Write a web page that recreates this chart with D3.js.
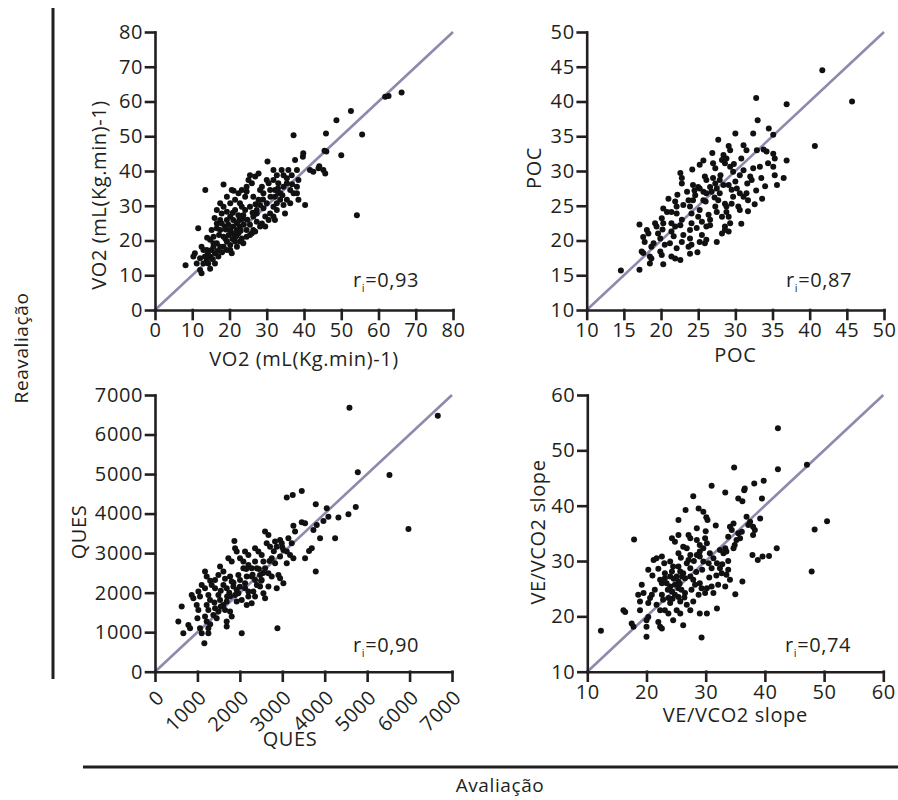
<!DOCTYPE html>
<html>
<head>
<meta charset="utf-8">
<script src="https://cdn.jsdelivr.net/npm/d3@7/dist/d3.min.js"></script>
<style>
  body { margin: 0; background: #fff; }
  svg text { font-family: "Open Sans", sans-serif; fill: #231f20; letter-spacing: 0.6px; }
  .axis path, .axis line { stroke: #231f20; stroke-width: 2.6; stroke-linecap: square; }
  .dot { fill: #111; }
  .identity { stroke: #8e89ad; stroke-width: 2.6; }
</style>
</head>
<body>
<svg id="chart" width="898" height="800"></svg>
<script>
// tick values for every panel
var vo2Ticks = [0, 10, 20, 30, 40, 50, 60, 70, 80];
var pocTicks = [10, 15, 20, 25, 30, 35, 40, 45, 50];
var quesTicks = [0, 1000, 2000, 3000, 4000, 5000, 6000, 7000];
var veTicks = [10, 20, 30, 40, 50, 60];

// axis titles and correlation coefficients
var titles = ["VO2 (mL(Kg.min)-1)", "POC", "QUES", "VE/VCO2 slope"];
var rValues = ["0,93", "0,87", "0,90", "0,74"];

// [avaliação, reavaliação] pairs
var vo2Points = [[8.2,12.9],[13.5,34.5],[18.4,36.1],[21.1,34.3],[20.6,34.5],[37.2,50.3],[45.9,50.8],[48.7,54.6],[52.6,57.3],[55.6,50.5],[54.2,27.3],[50.0,44.5],[61.8,61.4],[62.7,61.6],[66.2,62.6],[45.5,45.8],[46.0,45.6],[39.7,44.1],[39.8,45.1],[37.6,43.2],[30.2,42.7],[25.5,38.8],[25.1,37.4],[40.3,30.2],[38.1,40.3],[38.5,37.4],[41.6,40.3],[42.5,39.8],[43.9,40.8],[45.2,40.3],[45.7,39.3],[44.1,41.4],[11.6,23.5],[10.7,16.3],[10.3,15.4],[12.5,18.2],[13.0,17.3],[12.1,11.5],[12.5,10.6],[16.1,13.4],[14.8,15.4],[13.9,14.4],[15.2,17.3],[15.7,18.2],[16.6,19.2],[17.5,18.2],[18.4,21.1],[19.3,19.7],[15.7,21.1],[15.2,23.0],[16.6,24.9],[17.5,25.9],[17.9,27.8],[19.3,28.3],[18.4,29.7],[20.2,30.7],[21.5,31.7],[22.8,30.7],[24.2,32.6],[24.6,34.1],[20.2,26.9],[21.0,25.9],[22.0,24.9],[22.8,24.0],[20.2,23.0],[21.0,22.1],[22.4,22.1],[23.3,20.6],[17.5,23.0],[18.8,24.0],[24.6,23.0],[25.5,24.5],[26.4,26.9],[27.3,27.8],[24.2,28.8],[25.5,29.7],[26.4,32.6],[27.8,31.7],[28.2,34.5],[29.1,33.6],[28.7,35.5],[30.0,37.4],[31.8,40.3],[32.7,38.8],[34.0,40.3],[34.5,38.8],[30.5,36.5],[31.8,37.4],[33.1,36.5],[30.9,34.5],[32.2,34.5],[33.6,33.6],[34.5,35.5],[35.4,36.5],[36.3,34.5],[37.2,33.6],[38.1,35.5],[35.4,31.7],[36.3,30.7],[38.1,33.6],[38.5,31.7],[33.6,31.7],[34.5,30.2],[32.7,30.7],[31.8,29.7],[30.0,30.7],[29.1,29.3],[30.9,27.8],[32.7,28.8],[28.2,30.2],[27.3,28.8],[34.9,27.8],[32.2,25.9],[31.8,26.9],[29.6,26.9],[30.5,25.9],[27.3,25.4],[26.4,23.0],[26.0,22.1],[28.2,24.0],[22.8,19.7],[23.7,19.2],[20.2,17.3],[20.6,16.3],[16.1,16.3],[17.0,15.4],[18.4,18.2],[13.4,15.4],[13.9,17.3],[24.6,21.1],[16.6,28.8],[17.5,30.7],[19.3,32.6],[22.4,33.6],[23.3,34.5],[24.6,35.5],[26.0,36.5],[26.9,38.4],[27.8,39.3],[23.3,29.7],[23.7,27.3],[21.5,28.8],[22.4,27.3],[19.3,25.9],[19.7,24.5],[21.0,24.0],[22.0,23.0],[17.9,24.9],[16.6,23.5],[14.8,20.2],[15.7,19.2],[12.1,14.9],[13.0,13.4],[11.2,13.4],[14.3,13.4],[14.8,11.9],[19.3,17.3],[20.2,18.7],[22.0,18.2],[21.5,19.7],[25.5,21.6],[26.9,22.6],[28.7,24.9],[29.6,24.0],[32.2,32.6],[33.1,33.6],[35.4,37.9],[36.7,38.8],[35.8,40.3],[14.2,16.2],[15.5,14.6],[16.8,17.0],[18.0,16.6],[18.9,20.5],[19.8,21.6],[20.8,20.4],[21.8,21.2],[23.0,22.8],[23.8,24.6],[24.8,26.0],[20.9,28.0],[19.0,23.2],[17.2,21.6],[22.6,25.8],[23.5,26.2],[26.2,28.0],[27.0,30.4],[29.0,31.8],[31.0,32.6],[33.0,35.0],[34.2,33.0],[36.8,36.2],[16.0,26.5],[14.0,20.8]];

var pocPoints = [[41.7,44.5],[45.7,40.0],[32.8,40.5],[36.9,39.6],[40.7,33.6],[33.0,37.3],[34.5,36.1],[32.4,35.4],[30.0,35.4],[27.7,34.5],[29.1,33.6],[29.3,33.0],[31.1,33.7],[31.5,33.0],[32.9,33.0],[33.8,33.1],[35.1,35.2],[34.2,32.8],[35.1,32.5],[35.3,31.8],[34.4,31.1],[35.1,30.6],[36.9,31.5],[35.3,29.4],[36.5,29.0],[35.6,28.0],[33.3,30.6],[33.5,29.0],[34.0,27.8],[32.0,29.2],[32.2,28.7],[32.4,30.4],[31.1,30.1],[30.6,29.4],[28.4,32.3],[28.8,31.8],[28.2,31.6],[28.6,31.1],[29.3,30.6],[29.7,29.9],[27.0,31.1],[27.3,30.4],[25.2,30.9],[22.6,29.7],[22.8,29.0],[22.8,28.2],[24.3,28.0],[25.0,27.7],[25.9,29.2],[26.1,28.7],[27.0,29.0],[27.3,28.2],[27.9,28.7],[28.4,28.0],[25.2,27.5],[25.7,27.0],[26.6,27.7],[26.8,27.0],[27.5,27.5],[27.9,26.8],[29.1,28.0],[29.5,27.3],[30.0,28.5],[30.2,27.5],[30.6,26.8],[31.1,26.3],[29.7,26.3],[29.5,25.3],[31.5,26.8],[31.7,25.8],[32.6,25.2],[30.4,24.9],[30.6,24.4],[28.6,25.3],[28.8,24.9],[27.7,25.8],[27.3,24.9],[26.1,26.8],[25.7,25.8],[24.6,26.5],[24.3,25.8],[23.7,25.8],[23.0,25.1],[21.9,25.6],[22.1,24.9],[20.3,24.6],[20.8,24.1],[21.4,24.1],[22.1,23.9],[23.9,24.9],[24.1,23.9],[25.2,24.4],[25.0,23.4],[26.4,23.7],[26.6,23.0],[27.5,24.1],[28.2,23.4],[28.8,24.1],[29.1,23.4],[29.3,22.5],[28.6,22.0],[28.2,21.0],[28.6,21.5],[29.1,21.3],[26.1,22.0],[26.6,22.2],[25.5,22.7],[24.8,21.8],[24.1,22.5],[23.9,21.5],[22.8,23.0],[22.6,22.2],[21.4,22.5],[21.9,22.0],[20.1,23.2],[20.3,22.5],[19.2,22.5],[19.4,22.0],[17.1,22.3],[18.1,21.5],[18.3,21.0],[19.6,21.0],[19.9,20.3],[21.4,21.3],[21.7,20.6],[23.0,20.8],[22.8,19.8],[23.9,20.3],[24.1,19.4],[25.5,20.8],[25.2,19.8],[26.1,20.1],[25.9,19.6],[27.5,19.8],[17.6,20.5],[17.8,19.8],[18.7,19.1],[19.0,19.6],[20.5,19.4],[21.2,19.6],[22.1,18.9],[23.7,19.1],[17.4,18.4],[17.6,18.2],[18.5,17.7],[18.7,17.4],[19.9,18.4],[20.1,17.9],[21.4,17.7],[21.9,17.4],[24.9,18.3],[18.5,16.7],[20.3,16.6],[17.1,15.8],[14.6,15.7],[22.6,17.2],[23.9,18.1],[24.5,27.2],[26.0,25.6],[27.2,26.2],[28.0,29.4],[29.8,31.0],[30.8,31.8],[31.6,28.2],[26.9,32.6],[25.7,31.5],[24.2,30.2],[23.5,27.0],[22.2,26.6],[21.0,26.0],[20.2,21.6],[30.8,22.4],[31.7,24.2],[32.8,27.2],[33.6,26.0]];

var quesPoints = [[4583,6680],[6665,6477],[4780,5044],[5526,4977],[5974,3611],[3105,4404],[3246,4471],[3459,4572],[3789,4235],[4048,4134],[4732,4168],[4559,3982],[4323,3898],[4087,3923],[3970,3813],[3812,3712],[3734,3586],[3459,3780],[3537,3754],[3262,3695],[3301,3544],[3891,3375],[4245,3375],[3695,3122],[3631,3055],[3537,2869],[3789,2532],[3144,3375],[3223,3249],[2948,3333],[2987,3249],[2830,3291],[2869,3164],[2594,3544],[2673,3459],[2633,3249],[2712,3164],[3026,3080],[3105,3038],[3183,2954],[3262,2869],[3105,2743],[2948,2912],[2751,2869],[2830,2743],[2515,2954],[2555,2785],[2358,3122],[2437,3038],[2122,3038],[2201,2954],[1871,3308],[1887,3122],[1926,3038],[1729,2869],[1808,2785],[2004,2869],[2083,2785],[2201,2701],[2279,2616],[2358,2785],[2398,2616],[2594,2616],[2673,2490],[2476,2448],[2515,2321],[2751,2406],[2909,2448],[2948,2364],[3026,2237],[2869,2111],[2673,2153],[2358,2321],[2398,2195],[2162,2406],[2122,2237],[1965,2448],[2004,2321],[1769,2406],[1808,2279],[1533,2659],[1612,2532],[1494,2448],[1415,2321],[1179,2532],[1218,2406],[1101,2195],[1179,2111],[1336,2195],[1415,2111],[1612,2195],[1690,2111],[1847,2153],[1926,2069],[2122,2111],[2201,2027],[2319,2027],[2358,1900],[2555,1984],[2594,1858],[2279,1731],[2162,1689],[2044,1816],[1926,1773],[1769,1900],[1690,1773],[1494,1942],[1533,1816],[1258,1942],[1297,1816],[1022,2027],[1061,1900],[865,1942],[904,1858],[983,1689],[1022,1563],[1218,1689],[1258,1563],[1415,1605],[1494,1521],[1612,1689],[1651,1563],[1769,1521],[1808,1394],[1376,1436],[1454,1352],[1179,1394],[1218,1267],[629,1647],[550,1267],[786,1183],[826,1099],[668,973],[1061,1099],[1101,973],[1258,973],[1258,1099],[1690,1267],[1690,1141],[2044,973],[2885,1099],[1163,720],[1887,1942],[1965,1984],[2083,2616],[2279,2406],[2476,2153],[1300,2300],[1550,2050],[1650,2350],[1750,2000],[1850,2250],[2000,2150],[2150,2600],[2300,2450],[2450,2600],[2550,2500],[2700,2800],[2800,3050],[3000,3150],[1400,1750],[1550,1650],[1700,1900],[1000,1350],[1300,1200],[2200,1900],[2500,2300]];

var vePoints = [[42.2,54.0],[42.2,46.6],[47.1,47.4],[34.8,46.9],[31.0,43.6],[27.9,41.7],[33.3,42.4],[35.5,41.3],[36.2,40.8],[36.6,43.1],[36.5,42.8],[38.2,44.0],[39.8,44.5],[39.5,41.3],[26.6,39.2],[28.8,39.5],[29.6,38.9],[25.4,37.4],[30.1,37.9],[30.3,37.4],[31.7,36.4],[28.5,35.9],[17.9,33.9],[24.3,34.1],[24.8,33.5],[27.1,34.7],[27.4,34.1],[25.4,34.7],[26.2,32.6],[26.8,32.3],[28.5,33.8],[29.0,32.9],[29.9,34.1],[30.2,33.2],[29.6,32.3],[29.0,31.7],[28.5,31.1],[27.4,31.1],[27.1,30.2],[25.4,31.4],[22.6,30.8],[21.7,30.5],[21.2,30.2],[20.3,28.4],[24.0,29.9],[24.5,29.0],[25.4,29.0],[25.7,28.1],[26.8,29.6],[27.4,28.7],[29.0,30.8],[29.6,29.9],[30.7,31.4],[31.3,30.5],[30.5,29.6],[31.0,28.7],[32.4,32.0],[33.0,31.4],[33.3,32.3],[33.5,31.7],[33.8,34.4],[34.4,35.6],[34.1,36.2],[34.7,36.8],[35.5,35.0],[36.1,35.3],[35.2,33.8],[35.8,34.1],[34.9,32.9],[34.7,32.3],[36.9,38.0],[37.5,37.1],[37.2,36.5],[38.0,36.2],[38.3,35.6],[38.0,34.7],[39.2,37.7],[42.0,32.3],[37.9,31.1],[38.8,30.2],[39.6,30.8],[40.7,30.9],[48.4,35.7],[50.5,37.2],[47.9,28.1],[31.9,29.6],[32.4,28.7],[32.7,27.8],[33.5,27.5],[33.8,28.4],[34.1,26.6],[33.3,25.4],[32.1,25.7],[36.2,26.3],[35.0,24.0],[31.0,25.4],[31.3,24.2],[30.2,25.1],[29.9,24.2],[29.0,26.0],[29.3,25.1],[27.9,26.6],[28.2,25.7],[27.4,27.2],[26.2,27.8],[26.5,26.9],[25.1,27.2],[25.4,26.3],[24.3,28.1],[24.0,27.2],[23.1,27.8],[23.1,26.9],[22.3,26.6],[22.6,26.0],[23.4,26.0],[24.0,25.4],[24.8,25.7],[25.4,25.1],[25.9,24.8],[26.5,24.2],[24.3,24.5],[24.8,23.9],[25.4,23.5],[25.7,22.7],[23.7,23.3],[24.0,22.4],[22.6,23.9],[22.8,23.0],[21.4,24.8],[20.9,23.9],[19.2,25.7],[19.5,24.2],[18.6,23.9],[18.9,22.7],[20.3,22.4],[20.6,23.3],[21.7,22.1],[22.3,21.1],[23.1,21.1],[23.7,20.5],[25.1,21.1],[25.7,20.5],[26.8,22.1],[27.4,21.1],[27.9,22.7],[28.8,23.9],[29.0,20.5],[30.2,20.5],[31.9,21.4],[16.1,21.1],[16.4,20.8],[18.9,21.1],[17.5,18.7],[17.8,18.1],[20.0,19.3],[20.3,19.9],[22.0,19.0],[22.3,18.1],[22.6,17.8],[24.5,19.3],[26.2,18.4],[20.0,16.3],[29.3,16.2],[12.3,17.4],[20.0,18.1],[24.6,26.8],[25.6,25.9],[26.0,27.2],[23.6,24.8],[24.4,23.2],[26.4,23.4],[27.6,24.8],[28.4,28.0],[29.4,28.4],[30.6,27.0],[31.8,27.4],[32.8,29.4],[33.8,30.0],[22.0,28.6],[21.0,27.4],[23.0,29.6],[25.8,30.6],[28.0,30.0],[30.0,35.4]];

(function () {
  var svg = d3.select("#chart");

  // pixel boxes of the four panels plus where their titles sit
  var panels = [
    {points: vo2Points, ticks: vo2Ticks, title: titles[0], r: rValues[0],
     left: 155, right: 453, bottom: 310, top: 32,
     xTitleY: 366, yTitleX: 106, yTitleY: 195, rX: 353, rY: 287},
    {points: pocPoints, ticks: pocTicks, title: titles[1], r: rValues[1],
     left: 586.7, right: 884, bottom: 310, top: 32,
     xTitleY: 362, yTitleX: 541, yTitleY: 168, rX: 786, rY: 287},
    {points: quesPoints, ticks: quesTicks, title: titles[2], r: rValues[2],
     left: 155, right: 452, bottom: 671.7, top: 395, rotated: true,
     xTitleY: 746, xTitleX: 290, yTitleX: 86, yTitleY: 532, rX: 353, rY: 652},
    {points: vePoints, ticks: veTicks, title: titles[3], r: rValues[3],
     left: 587.3, right: 883.3, bottom: 671.7, top: 395,
     xTitleY: 722, yTitleX: 545, yTitleY: 532, rX: 785, rY: 652}
  ];

  panels.forEach(function (p) {
    var dom = d3.extent(p.ticks);
    var x = d3.scaleLinear().domain(dom).range([p.left, p.right]);
    var y = d3.scaleLinear().domain(dom).range([p.bottom, p.top]);
    var g = svg.append("g");

    // line of identity
    g.append("line")
      .attr("class", "identity")
      .attr("x1", x(dom[0])).attr("y1", y(dom[0]))
      .attr("x2", x(dom[1])).attr("y2", y(dom[1]));

    g.selectAll(".dot")
      .data(p.points)
      .enter().append("circle")
      .attr("class", "dot")
      .attr("cx", function (d) { return x(d[0]); })
      .attr("cy", function (d) { return y(d[1]); })
      .attr("r", 3);

    var fmt = d3.format("d");

    var gx = g.append("g")
      .attr("class", "axis")
      .attr("transform", "translate(0," + p.bottom + ")")
      .call(d3.axisBottom(x).tickValues(p.ticks).tickFormat(fmt)
        .tickSize(9).tickSizeOuter(0).tickPadding(4));

    var gy = g.append("g")
      .attr("class", "axis")
      .attr("transform", "translate(" + p.left + ",0)")
      .call(d3.axisLeft(y).tickValues(p.ticks).tickFormat(fmt)
        .tickSize(9).tickSizeOuter(0).tickPadding(3));

    [gx, gy].forEach(function (a) {
      a.attr("font-size", null).attr("font-family", null);
      a.selectAll("text").style("font-size", "20px").attr("fill", "#231f20");
    });

    if (p.rotated) {
      gx.selectAll(".tick text")
        .attr("text-anchor", "end")
        .attr("x", 0).attr("y", 0).attr("dy", "0.35em")
        .attr("transform", "translate(5,22) rotate(-45)");
    }

    // axis titles
    g.append("text")
      .attr("x", p.xTitleX || (p.left + p.right) / 2)
      .attr("y", p.xTitleY)
      .attr("text-anchor", "middle")
      .style("font-size", "20px")
      .text(p.title);

    g.append("text")
      .attr("transform", "translate(" + p.yTitleX + "," + p.yTitleY + ") rotate(-90)")
      .attr("text-anchor", "middle")
      .style("font-size", "20px")
      .text(p.title);

    // r_i label
    var rt = g.append("text")
      .attr("x", p.rX).attr("y", p.rY)
      .style("font-size", "20px");
    rt.append("tspan").text("r");
    rt.append("tspan").attr("dy", 5).style("font-size", "11px").text("i");
    rt.append("tspan").attr("dy", -5).text("=" + p.r);
  });

  // shared frame: left bracket line and bottom line with their labels
  svg.append("line")
    .attr("x1", 53).attr("x2", 53).attr("y1", 8).attr("y2", 679)
    .attr("stroke", "#231f20").attr("stroke-width", 3);

  svg.append("text")
    .attr("transform", "translate(28,348) rotate(-90)")
    .attr("text-anchor", "middle")
    .style("font-size", "19px")
    .text("Reavaliação");

  svg.append("line")
    .attr("x1", 83).attr("x2", 898).attr("y1", 767).attr("y2", 767)
    .attr("stroke", "#231f20").attr("stroke-width", 3);

  svg.append("text")
    .attr("x", 500).attr("y", 792)
    .attr("text-anchor", "middle")
    .style("font-size", "19px")
    .text("Avaliação");
}());
</script>
</body>
</html>
